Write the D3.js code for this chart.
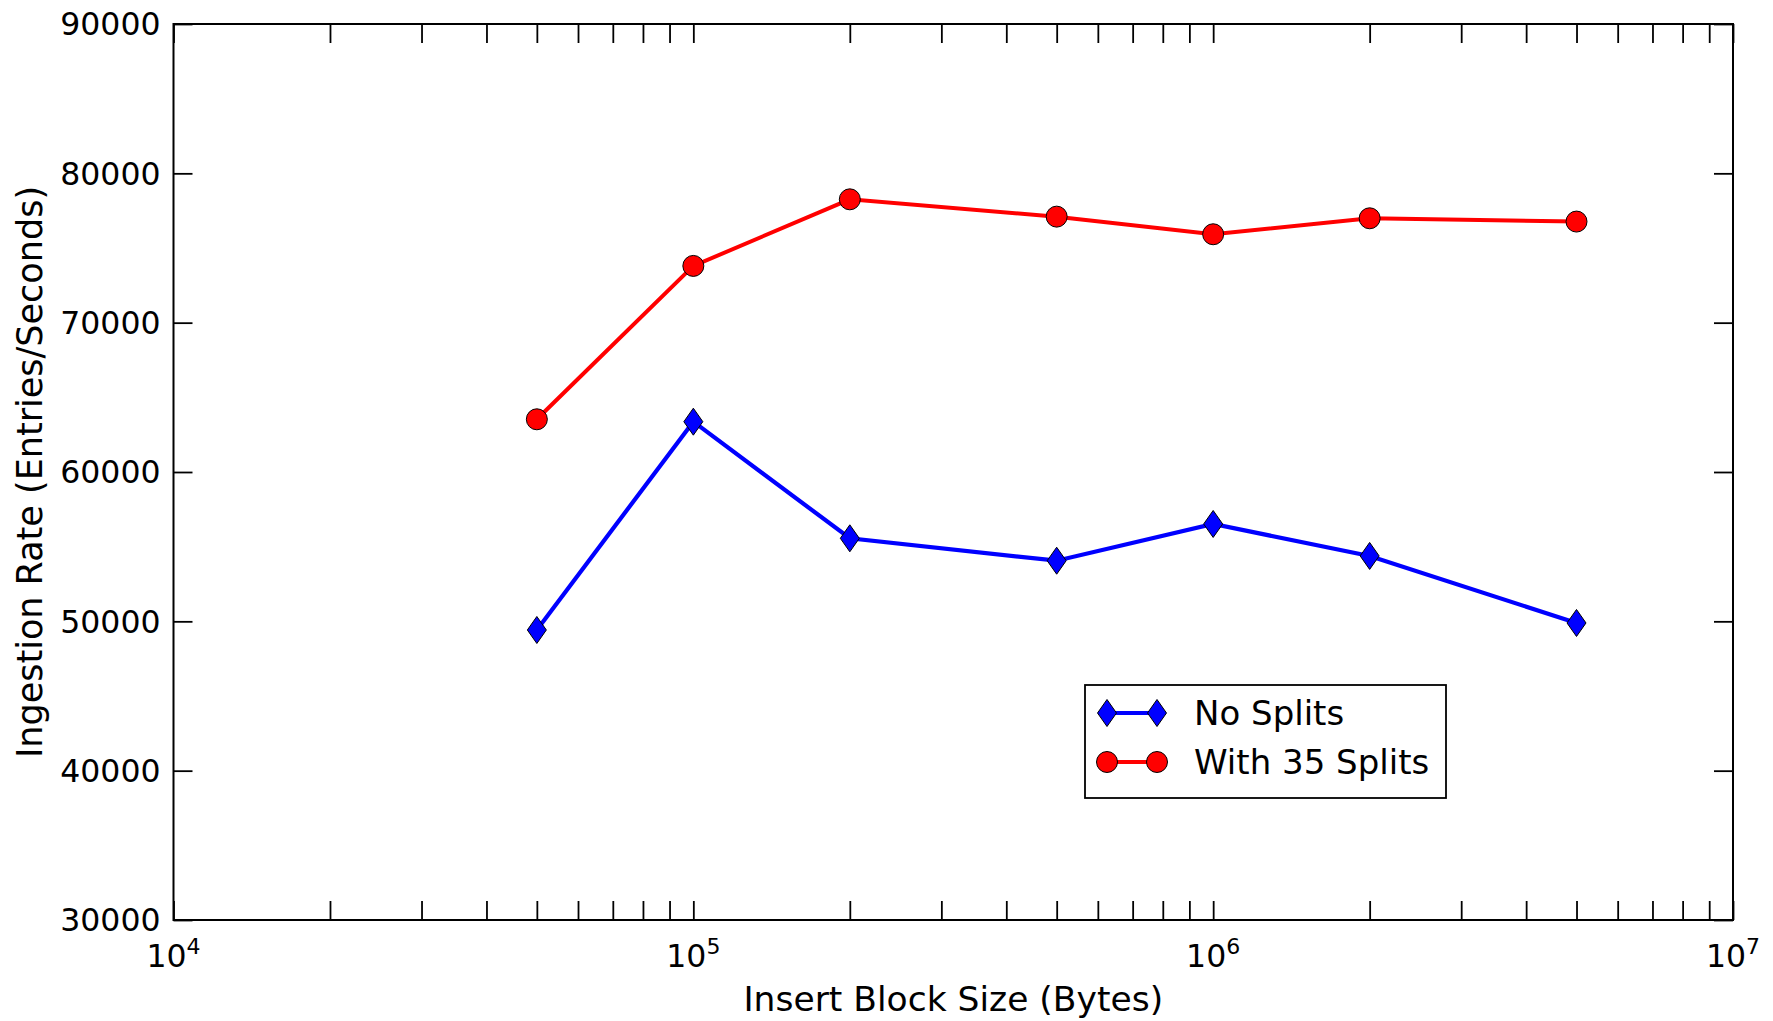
<!DOCTYPE html>
<html>
<head>
<meta charset="utf-8">
<script src="https://cdn.jsdelivr.net/npm/d3@7"></script>
<style>
  body { margin: 0; background: #fff; }
  text { font-family: "DejaVu Sans", sans-serif; fill: #000; }
</style>
</head>
<body>
<div id="chart"></div>
<script>
// Data
const blockSizes = [5e4, 1e5, 2e5, 5e5, 1e6, 2e6, 5e6];
const noSplits = [49420, 63370, 55560, 54060, 56520, 54380, 49890];
const withSplits = [63530, 73800, 78260, 77100, 75920, 76990, 76770];
const yTicks = [30000, 40000, 50000, 60000, 70000, 80000, 90000];
const xMajor = [1e4, 1e5, 1e6, 1e7];
const seriesNames = ["No Splits", "With 35 Splits"];

const width = 1773, height = 1021;
const plot = {left: 173.5, right: 1733, top: 24, bottom: 920};

const svg = d3.select("#chart")
  .append("svg")
  .attr("width", width)
  .attr("height", height);

// Scales
const x = d3.scaleLog()
  .domain([1e4, 1e7])
  .range([plot.left, plot.right]);

const y = d3.scaleLinear()
  .domain([30000, 90000])
  .range([plot.bottom, plot.top]);

const tickLen = 19;

// Ticks pointing inward on all four sides
const xTicks = x.ticks();
svg.append("g")
  .attr("transform", `translate(0,${plot.bottom})`)
  .call(d3.axisBottom(x).tickValues(xTicks).tickSizeInner(-tickLen).tickSizeOuter(0).tickFormat(""))
  .call(g => g.select(".domain").remove())
  .selectAll("line").attr("stroke", "#000").attr("stroke-width", 1.8);

svg.append("g")
  .attr("transform", `translate(0,${plot.top})`)
  .call(d3.axisTop(x).tickValues(xTicks).tickSizeInner(-tickLen).tickSizeOuter(0).tickFormat(""))
  .call(g => g.select(".domain").remove())
  .selectAll("line").attr("stroke", "#000").attr("stroke-width", 1.8);

svg.append("g")
  .attr("transform", `translate(${plot.left},0)`)
  .call(d3.axisLeft(y).tickValues(yTicks).tickSizeInner(-tickLen).tickSizeOuter(0).tickFormat(""))
  .call(g => g.select(".domain").remove())
  .selectAll("line").attr("stroke", "#000").attr("stroke-width", 1.8);

svg.append("g")
  .attr("transform", `translate(${plot.right},0)`)
  .call(d3.axisRight(y).tickValues(yTicks).tickSizeInner(-tickLen).tickSizeOuter(0).tickFormat(""))
  .call(g => g.select(".domain").remove())
  .selectAll("line").attr("stroke", "#000").attr("stroke-width", 1.8);

// Frame
svg.append("rect")
  .attr("x", plot.left)
  .attr("y", plot.top)
  .attr("width", plot.right - plot.left)
  .attr("height", plot.bottom - plot.top)
  .attr("fill", "none")
  .attr("stroke", "#000")
  .attr("stroke-width", 2);

// Y tick labels
svg.selectAll(".ylab")
  .data(yTicks)
  .enter()
  .append("text")
  .attr("x", plot.left - 13)
  .attr("y", d => y(d))
  .attr("dy", "0.36em")
  .attr("text-anchor", "end")
  .style("font-size", "31.5px")
  .text(d => d);

// X tick labels: 10 with superscript exponent
const xl = svg.selectAll(".xlab")
  .data(xMajor)
  .enter()
  .append("text")
  .attr("x", d => x(d))
  .attr("y", plot.bottom + 47)
  .attr("text-anchor", "middle")
  .style("font-size", "31.5px");
xl.append("tspan").text("10");
xl.append("tspan")
  .attr("dy", -13)
  .style("font-size", "22px")
  .text(d => Math.round(Math.log10(d)));

// Axis titles
svg.append("text")
  .attr("x", (plot.left + plot.right) / 2)
  .attr("y", 1011)
  .attr("text-anchor", "middle")
  .style("font-size", "34.5px")
  .text("Insert Block Size (Bytes)");

svg.append("text")
  .attr("transform", "rotate(-90)")
  .attr("x", -(plot.top + plot.bottom) / 2)
  .attr("y", 42)
  .attr("text-anchor", "middle")
  .style("font-size", "35px")
  .text("Ingestion Rate (Entries/Seconds)");

// Lines
const line = d3.line()
  .x(d => x(d[0]))
  .y(d => y(d[1]));

const blueData = blockSizes.map((b, i) => [b, noSplits[i]]);
const redData = blockSizes.map((b, i) => [b, withSplits[i]]);

svg.append("path")
  .datum(blueData)
  .attr("fill", "none")
  .attr("stroke", "#0000ff")
  .attr("stroke-width", 4.2)
  .attr("d", line);

svg.append("path")
  .datum(redData)
  .attr("fill", "none")
  .attr("stroke", "#ff0000")
  .attr("stroke-width", 4)
  .attr("d", line);

// Markers
const diamond = "M0,-13.5 L9.5,0 L0,13.5 L-9.5,0 Z";

svg.selectAll(".diamond")
  .data(blueData)
  .enter()
  .append("path")
  .attr("transform", d => `translate(${x(d[0])},${y(d[1])})`)
  .attr("d", diamond)
  .attr("fill", "#0000ff")
  .attr("stroke", "#000")
  .attr("stroke-width", 1);

svg.selectAll(".dot")
  .data(redData)
  .enter()
  .append("circle")
  .attr("cx", d => x(d[0]))
  .attr("cy", d => y(d[1]))
  .attr("r", 10.5)
  .attr("fill", "#ff0000")
  .attr("stroke", "#000")
  .attr("stroke-width", 1);

// Legend
const legend = svg.append("g")
  .attr("transform", "translate(1085,685)");

legend.append("rect")
  .attr("width", 361)
  .attr("height", 113)
  .attr("fill", "#fff")
  .attr("stroke", "#000")
  .attr("stroke-width", 1.8);

seriesNames.forEach((name, i) => {
  const ly = 28 + i * 49;
  const color = i === 0 ? "#0000ff" : "#ff0000";
  legend.append("line")
    .attr("x1", 22).attr("x2", 72)
    .attr("y1", ly).attr("y2", ly)
    .attr("stroke", color)
    .attr("stroke-width", 4.2);
  [22, 72].forEach(mx => {
    if (i === 0) {
      legend.append("path")
        .attr("transform", `translate(${mx},${ly})`)
        .attr("d", diamond)
        .attr("fill", color)
        .attr("stroke", "#000")
        .attr("stroke-width", 1);
    } else {
      legend.append("circle")
        .attr("cx", mx).attr("cy", ly)
        .attr("r", 10.5)
        .attr("fill", color)
        .attr("stroke", "#000")
        .attr("stroke-width", 1);
    }
  });
  legend.append("text")
    .attr("x", 109)
    .attr("y", ly)
    .attr("dy", "0.36em")
    .style("font-size", "34px")
    .text(name);
});
</script>
</body>
</html>
